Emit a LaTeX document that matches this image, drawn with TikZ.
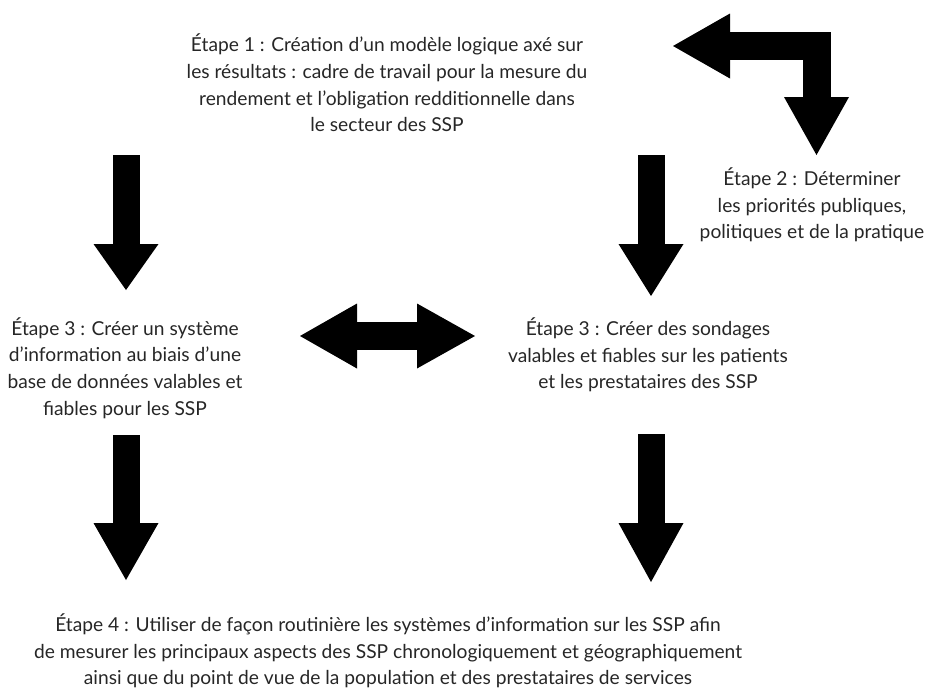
\documentclass[tikz,border=0pt]{standalone}
\usepackage{fontspec}
\setmainfont{Lato}
\usetikzlibrary{arrows.meta}

\begin{document}
\begin{tikzpicture}[x=1pt,y=-1pt]
	\useasboundingbox (0,0) rectangle (927,691);
	\begin{scope}
		[
			styleStep/.style={
				align=center, inner sep=0pt, text=black!85,
				font=\fontsize{19.2}{26.6}\selectfont
				},
		]
		\node(step1)[styleStep] at (387,83) {Étape 1 : Création d’un modèle logique axé sur\\ les résultats : cadre de travail pour la mesure du\\ rendement et l’obligation redditionnelle dans\\ le secteur des SSP};
		\node(step2)[styleStep] at (812,205) {Étape 2 : Déterminer\\ les priorités publiques,\\ politiques et de la pratique};
		\node(step3a)[styleStep] at (125,368) {Étape 3 : Créer un système\\ d’information au biais d’une\\ base de données valables et\\ fiables pour les SSP};
		\node(step3b)[styleStep] at (648,355) {Étape 3 : Créer des sondages\\ valables et fiables sur les patients\\ et les prestataires des SSP};
		\node(step4)[styleStep] at (388,651) {Étape 4 : Utiliser de façon routinière les systèmes d’information sur les SSP afin\\ de mesurer les principaux aspects des SSP chronologiquement et géographiquement\\ ainsi que du point de vue de la population et des prestataires de services};

		% arrow ends
		\coordinate(upL) at (126,155);
		\coordinate(upLtip) at (126,290);
		\coordinate(upR) at (651,155);
		\coordinate(upRtip) at (651,296);
		\coordinate(lowL) at (126,435);
		\coordinate(lowLtip) at (126,580);
		\coordinate(lowR) at (651,434);
		\coordinate(lowRtip) at (651,582);
		\coordinate(midL) at (300,336);
		\coordinate(midR) at (475,336);
		\coordinate(bendL) at (673,46);
		\coordinate(bendD) at (816.5,155);
	\end{scope}

	\begin{scope}
		[ fat/.style = {line width=27pt, line join=miter,
				-{Triangle[width=65pt,length=#1,line width=0pt 0]}},
			both/.style = {line width=28pt,
				{Triangle[width=65pt,length=57pt,line width=0pt 0]}-{Triangle[width=65pt,length=58pt,line width=0pt 0]}}]
		\path
		(upL) edge[fat=46pt]		(upLtip)
		(upR) edge[fat=52pt]		(upRtip)
		(lowL) edge[fat=57pt]		(lowLtip)
		(lowR) edge[fat=59pt]		(lowRtip)
		(midL) edge[both]			(midR);
		\draw[line width=28pt, line join=miter,
			{Triangle[width=65pt,length=57pt,line width=0pt 0]}-{Triangle[width=65pt,length=58pt,line width=0pt 0]}]
			(bendL) -| (bendD);
	\end{scope}
\end{tikzpicture}
\end{document}
